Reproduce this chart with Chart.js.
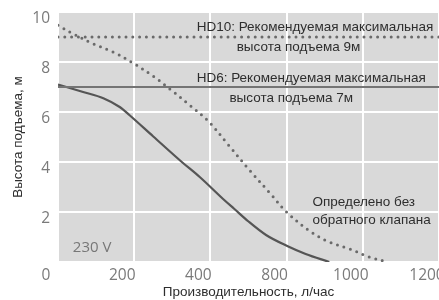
<!DOCTYPE html>
<html>
<head>
<meta charset="utf-8">
<script src="https://cdn.jsdelivr.net/npm/chart.js@4/dist/chart.umd.min.js"></script>
<style>
  html, body { margin: 0; padding: 0; background: #fff; }
  #wrap { width: 439px; height: 300px; }
</style>
</head>
<body>
<div id="wrap"><canvas id="pump-chart"></canvas></div>
<script>
// x values are in gridline units (0..1000, one gridline every 200)
const xTickLabels = ['0', '200', '400', '800', '1000', '1200'];
const yTickLabels = ['', '2', '4', '6', '8', '10'];

const hd6X = [0, 66, 119, 162, 188, 250, 325, 372, 437, 463, 500, 546, 603, 650, 712];
const hd6Y = [7.1, 6.8, 6.55, 6.2, 5.87, 5.02, 4.0, 3.4, 2.47, 2.12, 1.62, 1.08, 0.63, 0.32, 0];

const hd10X = [0, 36, 92, 145, 197, 250, 298, 346, 394, 448, 503, 559, 600, 664, 712, 764, 817, 865];
const hd10Y = [9.47, 9.16, 8.73, 8.4, 7.96, 7.43, 6.87, 6.27, 5.64, 4.67, 3.67, 2.71, 2.0, 1.2, 0.8, 0.53, 0.2, 0];

const maxHeights = [9, 7];

const notes = [
  { text: 'HD10: Рекомендуемая максимальная', x: 364, y: 9.4 },
  { text: 'высота подъема 9м', x: 469, y: 8.6 },
  { text: 'HD6: Рекомендуемая максимальная', x: 364, y: 7.36 },
  { text: 'высота подъема 7м', x: 450, y: 6.56 },
  { text: 'Определено без', x: 668, y: 2.4 },
  { text: 'обратного клапана', x: 668, y: 1.68 }
];
const voltageNote = { text: '230 V', x: 39, y: 0.56 };

const toPoints = (xs, ys) => xs.map((x, i) => ({ x: x, y: ys[i] }));

const plotBackground = {
  id: 'plotBackground',
  beforeDraw(chart) {
    const { ctx, chartArea } = chart;
    ctx.save();
    ctx.fillStyle = '#d9d9d9';
    ctx.fillRect(chartArea.left, chartArea.top, chartArea.right - chartArea.left, chartArea.bottom - chartArea.top);
    ctx.restore();
  }
};

const noteLabels = {
  id: 'noteLabels',
  afterDatasetsDraw(chart) {
    const ctx = chart.ctx;
    const xs = chart.scales.x;
    const ys = chart.scales.y;
    ctx.save();
    ctx.textAlign = 'left';
    ctx.textBaseline = 'middle';
    ctx.fillStyle = '#2e2e2e';
    ctx.font = '13.5px "Liberation Sans", Arial, sans-serif';
    notes.forEach(n => {
      ctx.fillText(n.text, xs.getPixelForValue(n.x), ys.getPixelForValue(n.y));
    });
    ctx.fillStyle = '#777';
    ctx.font = '15px "Open Sans", sans-serif';
    ctx.fillText(voltageNote.text, xs.getPixelForValue(voltageNote.x), ys.getPixelForValue(voltageNote.y));
    ctx.restore();
  }
};

const dotted = {
  borderColor: '#6a6a6a',
  borderWidth: 3,
  borderDash: [0, 6.8],
  borderCapStyle: 'round',
  pointRadius: 0,
  fill: false
};

new Chart(document.getElementById('pump-chart'), {
  type: 'line',
  data: {
    datasets: [
      {
        label: 'HD10 max',
        data: [{ x: 0, y: maxHeights[0] }, { x: 1000, y: maxHeights[0] }],
        ...dotted
      },
      {
        label: 'HD6 max',
        data: [{ x: 0, y: maxHeights[1] }, { x: 1000, y: maxHeights[1] }],
        borderColor: '#747474',
        borderWidth: 2,
        pointRadius: 0
      },
      {
        label: 'HD10',
        data: toPoints(hd10X, hd10Y),
        tension: 0.35,
        ...dotted
      },
      {
        label: 'HD6',
        data: toPoints(hd6X, hd6Y),
        borderColor: '#555',
        borderWidth: 2.2,
        cubicInterpolationMode: 'monotone',
        pointRadius: 0
      }
    ]
  },
  options: {
    responsive: true,
    maintainAspectRatio: false,
    animation: false,
    layout: { padding: { top: 12, right: 0, left: 0, bottom: 0 } },
    plugins: {
      legend: { display: false },
      tooltip: { enabled: false }
    },
    scales: {
      x: {
        type: 'linear',
        min: 0,
        max: 1000,
        afterBuildTicks: scale => {
          scale.ticks = [0, 200, 400, 600, 800, 1000].map(v => ({ value: v }));
        },
        afterFit: scale => {
          scale.height = 38;
          scale.paddingLeft = 0;
          scale.paddingRight = 0;
        },
        grid: { color: '#fff', lineWidth: 2, drawTicks: false },
        border: { display: false },
        ticks: {
          padding: 4,
          labelOffset: -12,
          maxRotation: 0,
          autoSkip: false,
          color: '#7a7a7a',
          font: { family: '"Open Sans", sans-serif', size: 15.5 },
          callback: (value, index) => xTickLabels[index]
        },
        title: {
          display: true,
          text: 'Производительность, л/час',
          color: '#2e2e2e',
          font: { family: '"Liberation Sans", Arial, sans-serif', size: 13.5 },
          padding: { top: 0, bottom: 0 }
        }
      },
      y: {
        min: 0,
        max: 10,
        afterFit: scale => {
          scale.width = 58;
          scale.paddingTop = 0;
          scale.paddingBottom = 0;
        },
        grid: { color: '#fff', lineWidth: 2, drawTicks: false },
        border: { display: false },
        ticks: {
          stepSize: 2,
          padding: 8,
          labelOffset: 7,
          color: '#7a7a7a',
          font: { family: '"Open Sans", sans-serif', size: 15.5 },
          callback: (value, index) => yTickLabels[index]
        },
        title: {
          display: true,
          text: 'Высота подъема, м',
          color: '#2e2e2e',
          font: { family: '"Liberation Sans", Arial, sans-serif', size: 13.5 },
          padding: { top: 10, bottom: 0 }
        }
      }
    }
  },
  plugins: [plotBackground, noteLabels]
});
</script>
</body>
</html>
